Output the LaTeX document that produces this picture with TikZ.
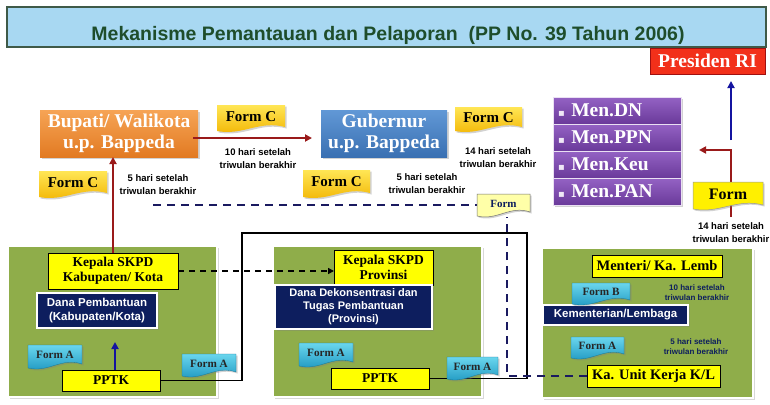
\documentclass[tikz,border=0pt]{standalone}
\usepackage{fontspec}
\setmainfont{Liberation Serif}
\setsansfont{Liberation Sans}
\newfontfamily\symfont{DejaVu Sans}
\usetikzlibrary{arrows.meta,shadows,calc}
\definecolor{titlefill}{HTML}{A8D8F2}
\definecolor{titledraw}{HTML}{3F5A48}
\definecolor{titletext}{HTML}{1E4D2B}
\definecolor{presred}{HTML}{F2301A}
\definecolor{presdraw}{HTML}{A01010}
\definecolor{orangetop}{HTML}{F6A455}
\definecolor{orangebot}{HTML}{E27A22}
\definecolor{bluetop}{HTML}{6198D6}
\definecolor{bluebot}{HTML}{3A70B2}
\definecolor{purtop}{HTML}{9462C4}
\definecolor{purbot}{HTML}{6A3A9A}
\definecolor{yboxc}{HTML}{FFFF00}
\definecolor{navyc}{HTML}{0D1E5E}
\definecolor{panelc}{HTML}{8FAD4A}
\definecolor{darkred}{HTML}{9A1A1A}
\definecolor{arrblue}{HTML}{1414A0}
\definecolor{dashnavy}{HTML}{1A1A60}
\definecolor{goldtop}{HTML}{FFE655}
\definecolor{goldbot}{HTML}{F2B400}
\definecolor{cyantop}{HTML}{6AD6EE}
\definecolor{cyanbot}{HTML}{1A94BE}
\definecolor{paleyel}{HTML}{FFFFA8}
\definecolor{brightyel}{HTML}{FFF000}
\newcommand{\fsz}[2]{\fontsize{#1}{#2}\selectfont}
% name, x1, y1, x2, y2, kind, text
\newcommand{\docbox}[7]{%
  \path[#6 shape] (#2,#3) -- (#4,#3) -- (#4,{#5-4})
    .. controls ({#2+0.62*(#4-#2)},{#5-11}) and ({#2+0.38*(#4-#2)},{#5+5}) .. (#2,#5) -- cycle;
  \node[#6 text, minimum width={((#4)-(#2))*1pt}, minimum height={((#5)-(#3))*1pt}]
    (#1) at ({(#2+#4)/2},{(#3+#5)/2-1.5}) {#7};}
\begin{document}
\begin{tikzpicture}[x=1pt,y=-1pt,
  every node/.style={inner sep=0pt, outer sep=0pt},
  shd/.style={drop shadow={opacity=0.35, shadow xshift=1.5pt, shadow yshift=-1.5pt}},
  formc shape/.style={top color=goldtop, bottom color=goldbot, shd},
  formc text/.style={font=\bfseries\fsz{15}{16}},
  forma shape/.style={top color=cyantop, bottom color=cyanbot, draw=cyanbot!80!black, line width=0.3pt, shd},
  forma text/.style={font=\bfseries\fsz{11.2}{12}, text=black!85},
  formn shape/.style={fill=paleyel, draw=black!55, line width=0.5pt, shd},
  formn text/.style={font=\bfseries\fsz{11}{12}, text=navyc},
  formr shape/.style={fill=brightyel, draw=black!40, line width=0.5pt, shd},
  formr text/.style={font=\bfseries\fsz{16}{17}},
  ybox/.style={draw=black, line width=0.8pt, fill=yboxc, align=center, font=\bfseries\fsz{13.5}{15}},
  navybox/.style={draw=white, line width=1.6pt, fill=navyc, text=white, align=center, font=\sffamily\bfseries\fsz{11.5}{13.5}, shd},
  panel/.style={fill=panelc, draw=white, line width=1.5pt, drop shadow={opacity=0.3, shadow xshift=1.5pt, shadow yshift=-1.5pt}},
  bigbox/.style={text=white, align=center, font=\bfseries\fsz{19.5}{21}, shd},
  menbox/.style={top color=purtop, bottom color=purbot, draw=white!80!purtop, line width=0.6pt, text=white,
     minimum width=128, minimum height=27, text width=118, align=left, font=\bfseries\fsz{19.5}{21}},
  lbl/.style={align=center, font=\sffamily\bfseries\fsz{9.5}{13}},
  lbln/.style={align=center, text=navyc, font=\sffamily\bfseries\fsz{8}{10}},
  redarr/.style={draw=darkred, line width=2pt, -{Triangle[length=7pt,width=7pt]}},
  bluearr/.style={draw=arrblue, line width=2pt, -{Triangle[length=7pt,width=7pt]}},
  navydash/.style={draw=dashnavy, line width=1.8pt, dash pattern=on 8pt off 6pt},
  blackline/.style={draw=black, line width=1.4pt}
]
\useasboundingbox (0,0) rectangle (770,404);
\fill[white] (0,0) rectangle (770,404);

% title
\node[fill=titlefill, draw=titledraw, line width=1.2pt, minimum width=759, minimum height=40] (titlebar) at (386.5,27) {};
\node[text=titletext, font=\sffamily\bfseries\fsz{19.5}{21}] (title) at (388,35.5) {Mekanisme Pemantauan dan Pelaporan\ \ (PP No. 39 Tahun 2006)};

% top row
\node[fill=presred, draw=presdraw, line width=0.8pt, minimum width=115, minimum height=26, text=white, font=\bfseries\fsz{19.5}{21}] (presiden) at (707.5,61) {Presiden RI};
\node[bigbox, top color=orangetop, bottom color=orangebot, minimum width=158, minimum height=47] (bupati) at (119,133.5) {Bupati/ Walikota\\u.p. Bappeda};
\node[bigbox, top color=bluetop, bottom color=bluebot, minimum width=126, minimum height=47] (gubernur) at (384,133.5) {Gubernur\\u.p. Bappeda};
\node[menbox, shd] (mendn) at (617,110.5) {{\symfont\fsz{10}{12}\textcolor{white!85!purtop}{▪}}\ Men.DN};
\node[menbox, shd] (menppn) at (617,137.5) {{\symfont\fsz{10}{12}\textcolor{white!85!purtop}{▪}}\ Men.PPN};
\node[menbox, shd] (menkeu) at (617,164.5) {{\symfont\fsz{10}{12}\textcolor{white!85!purtop}{▪}}\ Men.Keu};
\node[menbox, shd] (menpan) at (617,191.5) {{\symfont\fsz{10}{12}\textcolor{white!85!purtop}{▪}}\ Men.PAN};

% panels
\node[panel, minimum width=209, minimum height=151] (pleft) at (112.5,321.5) {};
\node[panel, minimum width=209, minimum height=151] (pmid) at (377.5,321.5) {};
\node[panel, minimum width=211, minimum height=150] (pright) at (647.5,323) {};

% panel boxes
\node[ybox, minimum width=130, minimum height=36] (kepkab) at (113,271) {Kepala SKPD\\Kabupaten/ Kota};
\node[navybox, minimum width=120, minimum height=35] (danapemb) at (97,310.5) {Dana Pembantuan\\(Kabupaten/Kota)};
\node[ybox, minimum width=98, minimum height=21] (pptkA) at (111,380.5) {PPTK};
\node[ybox, minimum width=99, minimum height=35] (kepprov) at (383.5,267.5) {Kepala SKPD\\Provinsi};
\node[navybox, minimum width=157, minimum height=44, font=\sffamily\bfseries\fsz{11}{13}] (danadekon) at (353.5,307) {Dana Dekonsentrasi dan\\Tugas Pembantuan\\(Provinsi)};
\node[ybox, minimum width=98, minimum height=21] (pptkB) at (380,378.5) {PPTK};
\node[ybox, minimum width=130, minimum height=22, font=\bfseries\fsz{14.5}{16}] (menteri) at (657,266) {Menteri/ Ka. Lemb};
\node[navybox, minimum width=145, minimum height=20, font=\sffamily\bfseries\fsz{11.5}{13}] (kementerian) at (615.5,315) {Kementerian/Lembaga};
\node[ybox, minimum width=133, minimum height=22, font=\bfseries\fsz{14.5}{16}] (kaunit) at (653.5,376) {Ka. Unit Kerja K/L};

% connectors
\coordinate (bl1) at (242,233);
\coordinate (bl2) at (527,233);
\draw[blackline] (pptkA.east) -| (bl1) -- (bl2) |- (pptkB.east);
\draw[draw=black, line width=1.6pt, dash pattern=on 6pt off 5pt, -{Triangle[length=6pt,width=6pt]}] (kepkab.east) -- (kepkab.east -| kepprov.west);
\draw[redarr] ($(bupati.east)+(-5,4.5)$) -- ($(gubernur.west)+(-9,4.5)$);
\draw[redarr] (kepkab.north) -- (kepkab.north |- bupati.south);
\draw[bluearr] ($(pptkA.north)+(4,0)$) -- ++(0,-28);
\coordinate (dleft) at (153,205);
\coordinate (rb) at (731,217);
\coordinate (ra) at (699,150);
\coordinate (bu) at (731,140);
\draw[redarr] (rb) |- (ra);
\draw[bluearr, shorten >=7pt] (bu) -- (bu |- presiden.south);

% form shapes
\docbox{formCtop}{217}{105}{285}{131}{formc}{Form C}
\docbox{formCright}{455}{107}{522}{131}{formc}{Form C}
\docbox{formCleft}{39}{171}{107}{197}{formc}{Form C}
\docbox{formCmid}{303}{170}{370}{197}{formc}{Form C}
\docbox{formAleft}{28}{345}{82}{368}{forma}{Form A}
\docbox{formAlr}{182}{354}{236}{376}{forma}{Form A}
\docbox{formAmid}{299}{343}{353}{366}{forma}{Form A}
\docbox{formAmr}{447}{357}{498}{379}{forma}{Form A}
\docbox{formB}{572}{283}{630}{304}{forma}{Form B}
\docbox{formAright}{571}{337}{624}{358}{forma}{Form A}

% dashed navy lines
\draw[navydash] (dleft) -- (477,205);
\draw[navydash] (kaunit.west) -- (kaunit.west -| 507,0) -- (507,217);
\docbox{formnote}{477}{194}{530}{216}{formn}{Form}
\docbox{formright}{693}{182}{763}{209}{formr}{Form}

% labels
\node[lbl] (t10a) at (258,158.5) {10 hari setelah\\triwulan berakhir};
\node[lbl] (t14a) at (498,158) {14 hari setelah\\triwulan berakhir};
\node[lbl] (t5a) at (158,185) {5 hari setelah\\triwulan berakhir};
\node[lbl] (t5b) at (427,184) {5 hari setelah\\triwulan berakhir};
\node[lbl] (t14b) at (731,232.5) {14 hari setelah\\triwulan berakhir};
\node[lbln] (t10c) at (697,293) {10 hari setelah\\triwulan berakhir};
\node[lbln] (t5c) at (696,347) {5 hari setelah\\triwulan berakhir};
\end{tikzpicture}
\end{document}
